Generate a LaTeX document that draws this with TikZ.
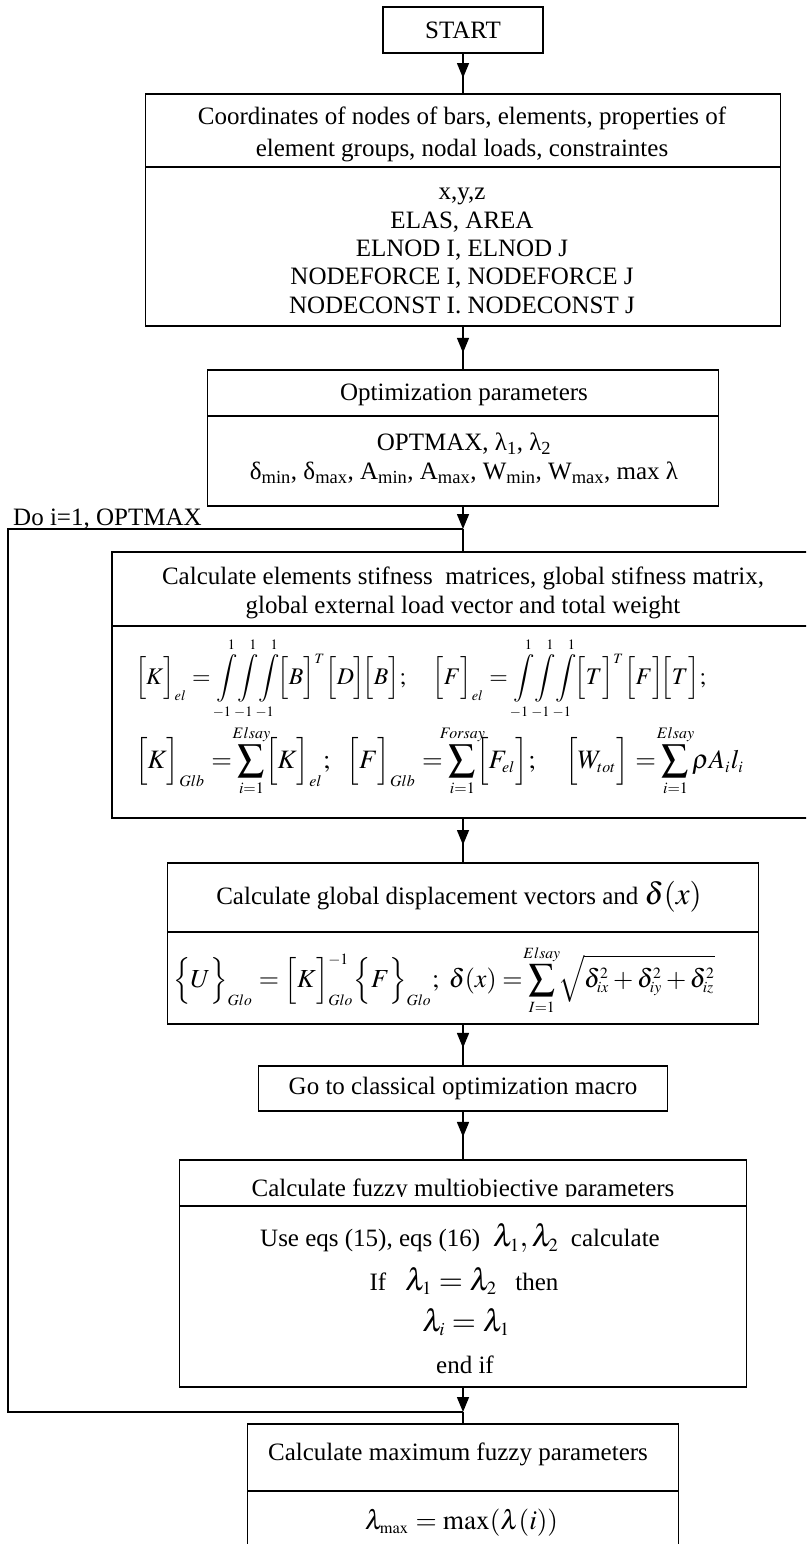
\documentclass[tikz,border=0pt]{standalone}
\usepackage{amsmath}
\usepackage{mathtools}
\usepackage{mathptmx}
\usepackage[no-math]{fontspec}
\setmainfont{Liberation Serif}
\usepackage{graphicx}
\usetikzlibrary{arrows.meta,calc}
\tikzset{
  frame/.style={draw, line width=1.5pt, inner sep=0pt, outer sep=0pt},
  flow/.style={line width=1.5pt},
  tip/.style={line width=1.5pt, -{Triangle[width=12pt,length=15pt]}},
  txt/.style={align=center, inner sep=0pt, font=\fontsize{25}{29}\selectfont},
  frm/.style={inner sep=0pt, outer sep=0pt},
}
\newcommand{\mbig}[1]{{\fontsize{31}{31}\selectfont$#1$}}
\newcommand{\tss}[1]{{\scriptscriptstyle #1}}
\newcommand{\lmt}[1]{\mathclap{\scriptscriptstyle #1}}
\begin{document}
\begin{tikzpicture}[x=1pt,y=-1pt]
\useasboundingbox (0,0) rectangle (806,1544);
\clip (0,0) rectangle (806,1544);
\fill[white] (0,0) rectangle (806,1544);

% START
\node[frame, txt, minimum width=160pt, minimum height=46pt] (start) at (463,30) {START};

% Box 2
\node[frame, minimum width=635pt, minimum height=232pt] (b2) at (463,210) {};
\draw[flow] (b2.west |- 0,167) -- (b2.east |- 0,167);
\node[txt, font=\fontsize{25}{32}\selectfont] (t2) at (462,134) {Coordinates of nodes of bars, elements, properties of\\ element groups, nodal loads, constraintes};
\node[txt, font=\fontsize{25}{28.3}\selectfont] (p2) at (462,251) {x,y,z\\ ELAS, AREA\\ ELNOD I, ELNOD J\\ NODEFORCE I, NODEFORCE J\\ NODECONST I. NODECONST J};

% Box 3
\node[frame, minimum width=511pt, minimum height=136pt] (b3) at (463,438) {};
\draw[flow] (b3.west |- 0,416) -- (b3.east |- 0,416);
\node[txt] (t3) at (464,395) {Optimization parameters};
\node[txt] (p3) at (464,458) {OPTMAX, λ\textsubscript{1}, λ\textsubscript{2}\\ δ\textsubscript{min}, δ\textsubscript{max}, A\textsubscript{min}, A\textsubscript{max}, W\textsubscript{min}, W\textsubscript{max}, max λ};

% loop label
\node[txt, anchor=base west] (lbl) at (13,525) {Do i=1, OPTMAX};

% Box 4
\node[frame, minimum width=702pt, minimum height=266pt] (b4) at (463,685) {};
\draw[flow] (b4.west |- 0,626) -- (b4.east |- 0,626);
\node[txt] (t4) at (463,593) {Calculate elements stifness~ matrices, global stifness matrix,\\ global external load vector and total weight};
\node[frm, anchor=west] (f4a) at (135,679) {\resizebox{571pt}{!}{$\displaystyle \Bigl[K\Bigr]_{\tss{el}} = \int\limits_{\tss{-1}}^{\tss{1}}\!\int\limits_{\tss{-1}}^{\tss{1}}\!\int\limits_{\tss{-1}}^{\tss{1}}\!\Bigl[B\Bigr]^{\tss{T}}\Bigl[D\Bigr]\!\Bigl[B\Bigr];\quad \Bigl[F\Bigr]_{\tss{el}} = \int\limits_{\tss{-1}}^{\tss{1}}\!\int\limits_{\tss{-1}}^{\tss{1}}\!\int\limits_{\tss{-1}}^{\tss{1}}\!\Bigl[T\Bigr]^{\tss{T}}\Bigl[F\Bigr]\!\Bigl[T\Bigr];$}};
\node[frm, anchor=west] (f4b) at (135,761) {\resizebox{609pt}{!}{$\displaystyle \Bigl[K\Bigr]_{\tss{Glb}} = \sum_{\lmt{i=1}}^{\lmt{Elsay}}\Bigl[K\Bigr]_{\tss{el}};\ \ \Bigl[F\Bigr]_{\tss{Glb}} = \sum_{\lmt{i=1}}^{\lmt{Forsay}}\Bigl[F_{\tss{el}}\Bigr];\quad \Bigl[W_{\tss{tot}}\Bigr] = \sum_{\lmt{i=1}}^{\lmt{Elsay}}\rho A_{\tss{i}}l_{\tss{i}}$}};

% Box 5
\node[frame, minimum width=591pt, minimum height=161pt] (b5) at (463,943.5) {};
\draw[flow] (b5.west |- 0,932) -- (b5.east |- 0,932);
\node[txt] (t5) at (459,897) {Calculate global displacement vectors and \mbig{\delta(x)}};
\node[frm, anchor=west] (f5) at (173,980) {\resizebox{542pt}{!}{$\displaystyle \Bigl\{U\Bigr\}_{\tss{Glo}} = \Bigl[K\Bigr]^{\tss{-1}}_{\tss{Glo}}\Bigl\{F\Bigr\}_{\tss{Glo}};\ \delta(x) = \sum_{\lmt{I=1}}^{\lmt{Elsay}}\sqrt{\delta_{\tss{ix}}^{\tss{2}}+\delta_{\tss{iy}}^{\tss{2}}+\delta_{\tss{iz}}^{\tss{2}}}$}};

% Box 6
\node[frame, txt, minimum width=409pt, minimum height=45pt] (b6) at (463,1088.5) {Go to classical optimization macro};

% Box 7
\node[frame, minimum width=567pt, minimum height=227pt] (b7) at (463,1273.5) {};
\draw[flow] (b7.west |- 0,1206) -- (b7.east |- 0,1206);
\begin{scope}
\clip (181,1160) rectangle (748,1196);
\node[txt, anchor=base] (t7) at (463,1196) {Calculate fuzzy multiobjective parameters};
\end{scope}
\node[txt] (p7a) at (460,1238) {Use eqs (15), eqs (16)~ \mbig{\lambda_{\tss{1}},\lambda_{\tss{2}}}~ calculate};
\node[txt] (p7b) at (464,1281) {If~~ \mbig{\lambda_{\tss{1}}=\lambda_{\tss{2}}}~~ then};
\node[txt] (p7c) at (466,1322) {\mbig{\lambda_{\tss{i}}=\lambda_{\tss{1}}}};
\node[txt] (p7d) at (465,1365) {end if};

% Box 8
\node[frame, minimum width=431pt, minimum height=136pt] (b8) at (463,1492) {};
\draw[flow] (b8.west |- 0,1491) -- (b8.east |- 0,1491);
\node[txt] (t8) at (458,1454) {Calculate maximum fuzzy parameters};
\node[frm] (f8) at (461.5,1523) {\resizebox{193pt}{!}{$\lambda_{\tss{\max}} = \max(\lambda(i))$}};

% junctions
\coordinate (j1) at (463,529);
\coordinate (j2) at (463,1412);
\coordinate (lt) at (8,529);
\coordinate (lb) at (8,1412);

% connectors
\draw[flow] (start.south) -- (start.south |- b2.north);
\draw[tip] (start.south) -- ($(start.south)!0.61!(start.south |- b2.north)$);
\draw[flow] (b2.south) -- (b2.south |- b3.north);
\draw[tip] (b2.south) -- ($(b2.south)!0.61!(b2.south |- b3.north)$);
\draw[tip] (b3.south) -- (j1);
\draw[flow] (j1) -- (b4.north);
\draw[flow] (b4.south) -- (b4.south |- b5.north);
\draw[tip] (b4.south) -- ($(b4.south)!0.6!(b4.south |- b5.north)$);
\draw[flow] (b5.south) -- (b5.south |- b6.north);
\draw[tip] (b5.south) -- ($(b5.south)!0.57!(b5.south |- b6.north)$);
\draw[flow] (b6.south) -- (b6.south |- b7.north);
\draw[tip] (b6.south) -- ($(b6.south)!0.53!(b6.south |- b7.north)$);
\draw[tip] (b7.south) -- (j2);
\draw[flow] (j2) -- (b8.north);
\draw[flow] (j2) -- (lb) -- (lt) -- (j1);
\end{tikzpicture}
\end{document}
